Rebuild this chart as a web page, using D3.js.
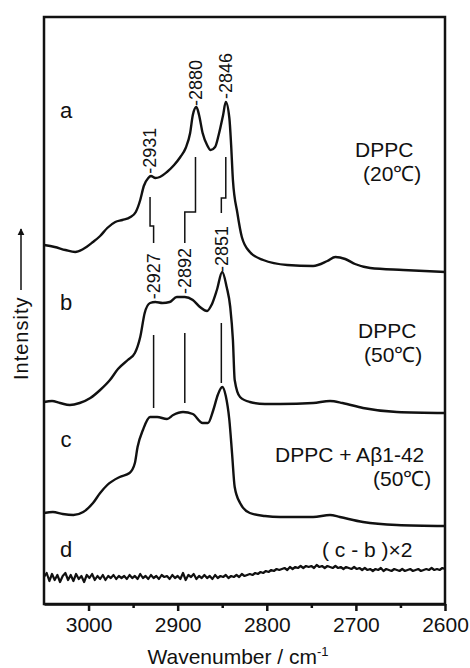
<!DOCTYPE html>
<html>
<head>
<meta charset="utf-8">
<script src="https://cdn.jsdelivr.net/npm/d3@7"></script>
<style>
  body { margin: 0; background: #fff; }
  text { font-family: "Liberation Sans", Arial, sans-serif; fill: #111; }
</style>
</head>
<body>
<svg id="chart" width="470" height="668"></svg>
<script>
// spectra (wavenumber / intensity, arbitrary units)
var wnA = [3050,3038,3026,3015,3006,2995,2987,2979,2970,2962,2953,2947,2942,2938,2933,2930,2925,2920,2912,2904,2897,2891,2886,2883,2879,2876,2872,2867,2863,2858,2854,2849,2846,2842,2840,2838,2833,2828,2819,2804,2777,2748,2732,2723,2712,2701,2684,2647,2600];
var intA = [359,357,354,352,355,362,368,376,382,384,387,392,404,418,426,428,426,427,432,439,447,456,471,489,497,489,471,459,454,457,469,489,502,486,459,424,391,367,352,344,339,338,343,347,345,340,336,334,332];

var wnB = [3050,3041,3032,3021,3010,2998,2987,2976,2967,2956,2948,2942,2937,2931,2925,2917,2909,2901,2892,2883,2875,2867,2862,2856,2850,2845,2841,2838,2836,2830,2819,2802,2785,2748,2729,2715,2692,2654,2600];
var intB = [202,203,201,199,201,206,214,224,235,244,251,267,291,301,302,301,302,307,307,304,297,293,299,314,332,317,297,264,224,207,202,200,200,201,203,201,196,192,191];

var wnC = [3050,3040,3029,3017,3006,2995,2987,2979,2965,2954,2948,2945,2939,2931,2923,2912,2905,2894,2883,2872,2866,2860,2855,2850,2846,2842,2839,2836,2830,2819,2802,2785,2748,2729,2718,2692,2654,2600];
var intC = [91,92,90,89,92,101,111,119,127,131,141,157,174,187,187,185,189,192,190,181,181,194,209,217,208,184,151,117,101,91,88,87,87,89,87,82,79,78];

// difference spectrum (c - b) x 2, every 3 cm-1 from 3050 down to 2600
var intD = [27,31,23,30,24,29,22,28,31,24,
            29,23,30,25,28,22,29,26,30,24,
            28,25,29,24,28,26,29,25,28,26,
            28,25,29,26,28,25,30,26,28,25,
            29,26,28,25,29,27,28,25,29,26,
            28,25,31,24,29,27,30,25,28,26,
            29,26,28,25,29,26,28,27,29,26,
            28,27,29,27,30,28,29,30,29,31,
            30,32,31,33,32,34,33,35,34,35,
            36,34,37,35,37,36,38,36,38,37,
            38,36,39,37,38,36,38,37,36,38,
            36,37,35,37,36,35,37,35,36,34,
            36,34,35,33,35,34,36,33,35,34,
            33,35,34,33,35,33,34,35,33,34,
            35,33,34,35,34,36,34,35,34,36,
            35];
var wnD = d3.range(3050, 2599, -3);

var curveLetters = ["a", "b", "c", "d"];
var letterBase = [486, 294, 157, 47];

var sampleNames = ["DPPC", "DPPC", "DPPC + A\u03b21-42", "( c - b )\u00d72"];
var sampleTemps = ["(20\u2103)", "(50\u2103)", "(50\u2103)", ""];

// peak labels
var peaksA = [2931, 2880, 2846];
var peaksB = [2927, 2892, 2851];

// step connectors a -> b (intensity levels: top, bend, bottom)
var stepTop = [407, 447, 447];
var stepBend = [378, 392, 406];
var stepBottom = [361, 361, 391];

// guide lines b -> c
var guideTop = [269, 271, 281];
var guideBottom = [196, 201, 221];

var majorTicks = [3000, 2900, 2800, 2700, 2600];
var minorTicks = [2950, 2850, 2750, 2650];

var svg = d3.select("#chart");
var x = d3.scaleLinear().domain([3050, 2600]).range([44, 445]);
var y = d3.scaleLinear().domain([0, 587]).range([604, 17]);

function pts(wn, vals) {
  return wn.map(function(w, i) { return [w, vals[i]]; });
}
function valueAt(wn, vals, w) {
  for (var i = 0; i < wn.length - 1; i++) {
    if (w <= wn[i] && w >= wn[i + 1]) {
      var t = (wn[i] - w) / (wn[i] - wn[i + 1]);
      return vals[i] + t * (vals[i + 1] - vals[i]);
    }
  }
  return vals[0];
}

var line = d3.line()
  .x(function(d) { return x(d[0]); })
  .y(function(d) { return y(d[1]); })
  .curve(d3.curveMonotoneX);
var lineRaw = d3.line()
  .x(function(d) { return x(d[0]); })
  .y(function(d) { return y(d[1]); });

// frame
svg.append("rect")
  .attr("x", 44).attr("y", 17)
  .attr("width", 401).attr("height", 587)
  .attr("fill", "none").attr("stroke", "#111").attr("stroke-width", 2.5);

var spectra = [pts(wnA, intA), pts(wnB, intB), pts(wnC, intC)];
svg.append("g").selectAll("path")
  .data(spectra)
  .enter().append("path")
  .attr("d", line)
  .attr("fill", "none").attr("stroke", "#111").attr("stroke-width", 2.4);

svg.append("path")
  .attr("d", lineRaw(pts(wnD, intD)))
  .attr("fill", "none").attr("stroke", "#111").attr("stroke-width", 2.2)
  .attr("stroke-linejoin", "round");

// step connectors
peaksA.forEach(function(p, i) {
  var q = peaksB[i];
  var pth = d3.path();
  pth.moveTo(x(p), y(stepTop[i]));
  pth.lineTo(x(p), y(stepBend[i]));
  pth.lineTo(x(q), y(stepBend[i]));
  pth.lineTo(x(q), y(stepBottom[i]));
  svg.append("path").attr("d", pth.toString())
    .attr("fill", "none").attr("stroke", "#111").attr("stroke-width", 1.5);
});

// guides b -> c
svg.append("g").selectAll("line")
  .data(peaksB)
  .enter().append("line")
  .attr("x1", function(d) { return x(d); })
  .attr("x2", function(d) { return x(d); })
  .attr("y1", function(d, i) { return y(guideTop[i]); })
  .attr("y2", function(d, i) { return y(guideBottom[i]); })
  .attr("stroke", "#111").attr("stroke-width", 1.5);

// peak labels
function peakLabels(peaks, wn, vals) {
  peaks.forEach(function(p) {
    var px = x(p), py = y(valueAt(wn, vals, p)) - 3;
    svg.append("text")
      .attr("transform", "translate(" + px + "," + py + ") rotate(-90)")
      .attr("dy", "0.35em")
      .style("font-size", "18px")
      .text("-" + p);
  });
}
peakLabels(peaksA, wnA, intA);
peakLabels(peaksB, wnB, intB);

// curve letters
svg.append("g").selectAll("text")
  .data(curveLetters)
  .enter().append("text")
  .attr("x", 66).attr("y", function(d, i) { return y(letterBase[i]); })
  .attr("text-anchor", "middle")
  .style("font-size", "22px")
  .text(function(d) { return d; });

// sample names
var nameX = [355, 358, 275, 322], nameY = [157, 338, 462, 557];
var tempX = [363, 364, 373, 0], tempY = [181, 362, 486, 0];
sampleNames.forEach(function(n, i) {
  svg.append("text").attr("x", nameX[i]).attr("y", nameY[i])
    .style("font-size", "21px").attr("xml:space", "preserve").text(n);
  if (sampleTemps[i]) {
    svg.append("text").attr("x", tempX[i]).attr("y", tempY[i])
      .style("font-size", "21px").text(sampleTemps[i]);
  }
});

// x axis
var axisMajor = d3.axisBottom(x).tickValues(majorTicks).tickSizeInner(7).tickSizeOuter(0).tickPadding(6).tickFormat(d3.format("d"));
var gx = svg.append("g").attr("transform", "translate(0,604)").call(axisMajor);
gx.select(".domain").attr("stroke", "#111").attr("stroke-width", 2.5);
gx.selectAll(".tick line").attr("stroke", "#111").attr("stroke-width", 2.5);
gx.selectAll(".tick text").style("font-size", "21px").attr("fill", "#111")
  .style("font-family", "'Liberation Sans', Arial, sans-serif");

var axisMinor = d3.axisBottom(x).tickValues(minorTicks).tickSizeInner(4).tickSizeOuter(0).tickFormat("");
var gm = svg.append("g").attr("transform", "translate(0,604)").call(axisMinor);
gm.select(".domain").remove();
gm.selectAll(".tick line").attr("stroke", "#111").attr("stroke-width", 2.5);

// axis titles
var xt = svg.append("text").attr("x", 238).attr("y", 664)
  .attr("text-anchor", "middle").style("font-size", "21px");
xt.append("tspan").text("Wavenumber / cm");
xt.append("tspan").attr("dy", -8).style("font-size", "13px").text("-1");

svg.append("text")
  .attr("transform", "translate(21,380) rotate(-90)")
  .attr("dy", "0.35em")
  .style("font-size", "20px").style("letter-spacing", "1px")
  .text("Intensity");

svg.append("defs").append("marker")
  .attr("id", "arrow").attr("viewBox", "0 0 10 10")
  .attr("refX", 9).attr("refY", 5)
  .attr("markerWidth", 7).attr("markerHeight", 10)
  .attr("markerUnits", "userSpaceOnUse")
  .attr("orient", "auto")
  .append("path").attr("d", "M0,0 L10,5 L0,10 Z").attr("fill", "#111");
svg.append("line")
  .attr("x1", 21).attr("x2", 21).attr("y1", 290).attr("y2", 229)
  .attr("stroke", "#111").attr("stroke-width", 1.5)
  .attr("marker-end", "url(#arrow)");
</script>
</body>
</html>
